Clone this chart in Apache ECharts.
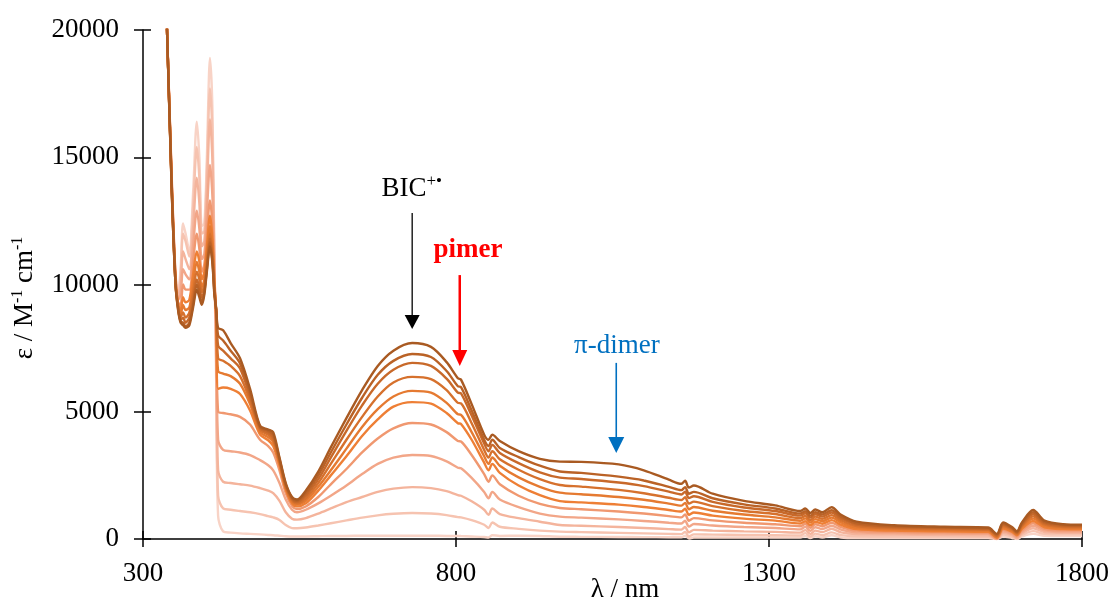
<!DOCTYPE html>
<html>
<head>
<meta charset="utf-8">
<script src="https://cdn.jsdelivr.net/npm/echarts@6/dist/echarts.min.js"></script>
<style>
html,body{margin:0;padding:0;background:#fff;}
#c{width:1112px;height:603px;}
</style>
</head>
<body>
<div id="c"></div>
<script>
// wavelength grid (nm)
const wavelengths = [330,338,346,352,356,360,364,368,374,380,386,390,394,398,402,407,411,414,417,420,
428,440,455,471,487,500,508,518,528,538,546,560,580,600,625,650,675,700,730,760,785,803,808,825,845,852,858,870,900,934,966,1000,1060,
1100,1140,1160,1166,1172,1180,1210,1260,1310,1350,1358,1366,1374,1385,1400,1415,1440,1500,1580,1650,1664,1674,1688,1696,1704,1722,1740,1770,1800];

// epsilon values for each spectrum (lightest -> darkest)
const curve0 = [26000,20300,14200,10400,9700,10600,12400,12000,11300,13600,16400,15000,12300,12400,15000,18900,16800,11000,6000,900,
300,250,220,200,180,160,150,130,110,100,100,100,110,120,120,130,130,130,130,130,120,120,115,100,80,60,150,120,130,120,90,85,80,
75,70,70,130,20,60,60,60,60,60,120,40,110,60,150,60,40,40,40,40,0,100,40,0,100,200,130,120,120];
const curve1 = [26000,20300,14100,10350,9600,10300,12000,11700,11100,13000,15400,14200,12000,12100,14400,17700,15800,11000,6800,1700,
1200,1150,1100,1050,980,900,850,750,550,430,420,450,530,620,730,840,930,990,1020,1000,940,860,850,740,560,430,650,480,400,330,290,270,240,
220,200,190,280,100,180,170,160,150,140,230,100,210,150,260,150,110,100,100,90,0,170,90,20,160,310,200,180,180];
const curve2 = [26000,20300,14000,10300,9500,10000,11300,11000,10600,12200,14200,13200,11500,11700,13600,16500,14800,10800,7400,2700,
2250,2200,2150,2100,2000,1900,1800,1500,1050,800,760,820,1000,1200,1450,1650,1850,1980,2040,2000,1880,1720,1700,1480,1150,950,1200,980,820,680,550,520,470,
430,390,370,470,260,360,330,300,280,250,350,200,330,270,400,260,190,170,160,150,0,240,150,40,220,420,270,240,240];
const curve3 = [26000,20300,13950,10250,9400,9600,10600,10400,10200,11500,12900,12200,11000,11200,12800,14700,13400,10500,8000,3900,
3500,3450,3400,3300,3100,2900,2700,2200,1550,1150,1050,1150,1400,1700,2100,2550,2950,3200,3300,3260,3050,2800,2780,2400,1850,1600,1850,1550,1250,1000,880,840,770,
710,640,610,720,490,590,530,470,430,380,480,320,460,390,520,370,260,230,210,200,0,300,200,70,280,520,340,290,290];
const curve4 = [26000,20300,13900,10200,9300,9200,10000,9800,9800,10900,12000,11400,10500,10800,12000,13300,12300,10200,8400,5000,
4950,4900,4800,4500,3900,3650,3400,2700,1800,1300,1180,1280,1650,2150,2750,3400,3950,4350,4560,4500,4200,3850,3830,3300,2550,2250,2500,2150,1700,1380,1220,1170,1080,
1000,900,850,960,720,820,730,640,580,500,600,440,580,500,640,470,330,280,260,240,20,360,250,110,340,620,400,340,340];
const curve5 = [26000,20300,13850,10150,9250,9000,9500,9300,9400,10400,11300,10900,10200,10500,11500,12700,11800,10100,8600,5900,
5950,5900,5700,5050,4100,3880,3650,2900,1950,1400,1280,1400,1900,2500,3250,4050,4700,5200,5380,5320,4950,4550,4520,3900,3000,2700,2950,2600,2100,1720,1490,1440,1350,
1260,1140,1080,1190,950,1040,920,800,720,610,700,540,680,600,740,560,390,330,300,280,50,410,290,150,400,710,460,390,380];
const curve6 = [26000,20300,13800,10100,9200,8800,9200,9000,9100,10000,10900,10500,9900,10200,11200,12300,11500,10000,8800,6600,
6500,6400,6100,5300,4200,4000,3800,3000,2000,1470,1350,1500,2050,2700,3550,4400,5100,5600,5820,5750,5350,4900,4880,4200,3250,2950,3200,2880,2420,2050,1820,1760,1650,
1540,1390,1310,1420,1170,1260,1110,960,850,720,810,650,780,700,840,650,450,380,340,320,80,460,330,180,450,800,520,430,420];
const curve7 = [26000,20300,13750,10050,9150,8700,8900,8700,8900,9700,10500,10200,9700,10000,10900,12000,11200,9900,8900,7100,
7000,6800,6400,5450,4300,4100,3900,3050,2050,1530,1400,1600,2200,2950,3900,4800,5600,6150,6370,6280,5850,5350,5330,4550,3500,3200,3450,3130,2720,2350,2120,2060,1930,
1800,1620,1530,1640,1390,1470,1290,1100,980,820,910,740,880,790,940,730,510,420,380,360,110,510,370,210,500,890,570,470,460];
const curve8 = [26000,20300,13700,10000,9100,8600,8700,8500,8700,9400,10200,9900,9500,9800,10700,11800,11000,9800,9000,7600,
7400,7100,6700,5600,4350,4180,4000,3100,2100,1580,1450,1700,2350,3200,4250,5250,6100,6650,6920,6800,6300,5750,5720,4850,3750,3450,3700,3380,2980,2620,2410,2360,2220,
2080,1860,1750,1860,1610,1680,1460,1240,1100,920,1010,840,970,880,1040,810,570,460,420,390,140,560,410,240,550,970,620,510,500];
const curve9 = [26000,20300,13650,10000,9050,8550,8500,8350,8500,9200,10000,9700,9300,9700,10600,11650,10900,9700,9000,8000,
7800,7400,6900,5750,4400,4250,4100,3150,2150,1620,1500,1800,2500,3400,4500,5550,6450,7000,7270,7150,6600,6000,5970,5050,3900,3650,3900,3580,3220,2880,2650,2600,2450,
2300,2050,1920,2040,1780,1850,1600,1360,1200,1000,1090,920,1050,960,1130,880,620,500,450,420,170,600,440,270,600,1050,670,550,530];
const curve10 = [26000,20300,13600,10000,9000,8500,8400,8300,8400,9100,9800,9500,9200,9600,10500,11500,10800,9600,9000,8300,
8200,7700,7100,5900,4450,4300,4200,3200,2200,1650,1550,1900,2650,3600,4750,5850,6800,7400,7700,7550,6950,6320,6260,5300,4100,3900,4100,3850,3450,3150,3040,3030,2930,
2700,2330,2170,2290,2020,2100,1780,1500,1320,1100,1200,1020,1160,1050,1250,950,680,540,480,450,200,650,470,300,650,1140,720,580,560];

const curves = [curve0,curve1,curve2,curve3,curve4,curve5,curve6,curve7,curve8,curve9,curve10];
const colors = ['#f8d3c6','#f6c3b0','#f4b49c','#f2a688','#f09870','#ee7f35','#e57a31','#d6712d','#c8692a','#ba6226','#a95a22'];

const xTicks = {min:300, max:1800, interval:500};
const yTicks = {min:0, max:20000, interval:5000};

const FONT = '"Liberation Serif","Times New Roman",serif';

const chart = echarts.init(document.getElementById('c'), null, {renderer:'canvas'});

const series = curves.map((c, k) => ({
  type:'line', name:'s'+k, showSymbol:false, symbol:'none', animation:false,
  smooth:0.3,
  lineStyle:{width:2.4, color:colors[k]}, itemStyle:{color:colors[k]},
  data: wavelengths.map((w,i)=>[w, c[i]]), z: 2+k, clip:true
}));

const baseX = {type:'value', min:xTicks.min, max:xTicks.max, interval:xTicks.interval, splitLine:{show:false}};
const baseY = {type:'value', min:yTicks.min, max:yTicks.max, interval:yTicks.interval, splitLine:{show:false}};
const plain = v => String(v);

chart.setOption({
  animation:false,
  backgroundColor:'#fff',
  grid:{left:143, right:30, top:30, bottom:64, containLabel:false},
  xAxis:[
    Object.assign({}, baseX, {position:'bottom',
      axisLine:{show:true, onZero:false, lineStyle:{color:'#000', width:1.5}},
      axisTick:{show:true, inside:false, length:8, lineStyle:{color:'#000', width:1.5}},
      axisLabel:{show:true, margin:21, color:'#000', fontSize:27, fontFamily:FONT, formatter:plain}}),
    Object.assign({}, baseX, {position:'bottom',
      axisLine:{show:false},
      axisTick:{show:true, inside:true, length:8, lineStyle:{color:'#000', width:1.5}},
      axisLabel:{show:false}})
  ],
  yAxis:[
    Object.assign({}, baseY, {position:'left',
      axisLine:{show:true, onZero:false, lineStyle:{color:'#000', width:1.5}},
      axisTick:{show:true, inside:false, length:9, lineStyle:{color:'#000', width:1.5}},
      axisLabel:{show:true, margin:24, color:'#000', fontSize:27, fontFamily:FONT, formatter:plain}}),
    Object.assign({}, baseY, {position:'left',
      axisLine:{show:false},
      axisTick:{show:true, inside:true, length:8, lineStyle:{color:'#000', width:1.5}},
      axisLabel:{show:false}})
  ],
  series: series
});

// annotations positioned in data coordinates
const P = (x,y) => chart.convertToPixel({gridIndex:0}, [x,y]);
function arrow(x, y0, y1, color, lw, hw, hh) {
  const a = P(x, y0), b = P(x, y1);
  return [
    {type:'line', shape:{x1:a[0], y1:a[1], x2:b[0], y2:b[1]-hh+1}, style:{stroke:color, lineWidth:lw}, z:50},
    {type:'polygon', shape:{points:[[b[0]-hw/2, b[1]-hh],[b[0]+hw/2, b[1]-hh],[b[0], b[1]]]}, style:{fill:color}, z:50}
  ];
}
const g = [];
g.push(...arrow(730, 12810, 8250, '#000', 1.3, 15, 14));
g.push(...arrow(806, 10370, 6800, '#ff0000', 2.5, 15, 16));
g.push(...arrow(1056, 6920, 3380, '#0070c0', 1.6, 16, 16));

const tBIC = P(681, 13750);
g.push({type:'text', x:tBIC[0], y:tBIC[1], z:60, style:{
  text:'{a|BIC}{b|+•}', align:'left', verticalAlign:'middle',
  rich:{a:{fontSize:27, fontFamily:FONT, fill:'#000', lineHeight:32},
        b:{fontSize:17, fontFamily:FONT, fill:'#000', lineHeight:12, verticalAlign:'top'}}}});
const tPim = P(819, 11350);
g.push({type:'text', x:tPim[0], y:tPim[1], z:60, style:{
  text:'pimer', align:'center', verticalAlign:'middle', fill:'#ff0000',
  font:'bold 27px ' + FONT}});
const tDim = P(1057, 7580);
g.push({type:'text', x:tDim[0], y:tDim[1], z:60, style:{
  text:'π-dimer', align:'center', verticalAlign:'middle', fill:'#0070c0',
  font:'27px ' + FONT}});

// axis titles
g.push({type:'text', x:625, y:590, z:60, style:{
  text:'λ / nm', align:'center', verticalAlign:'middle', fill:'#000', font:'27px ' + FONT}});
g.push({type:'text', x:25, y:298, rotation:Math.PI/2, z:60, style:{
  text:'{a|ε / M}{b|-1}{a| cm}{b|-1}', align:'center', verticalAlign:'middle',
  rich:{a:{fontSize:27, fontFamily:FONT, fill:'#000', lineHeight:30},
        b:{fontSize:16, fontFamily:FONT, fill:'#000', lineHeight:14, verticalAlign:'top'}}}});

chart.setOption({graphic:{elements:g}});
</script>
</body>
</html>
